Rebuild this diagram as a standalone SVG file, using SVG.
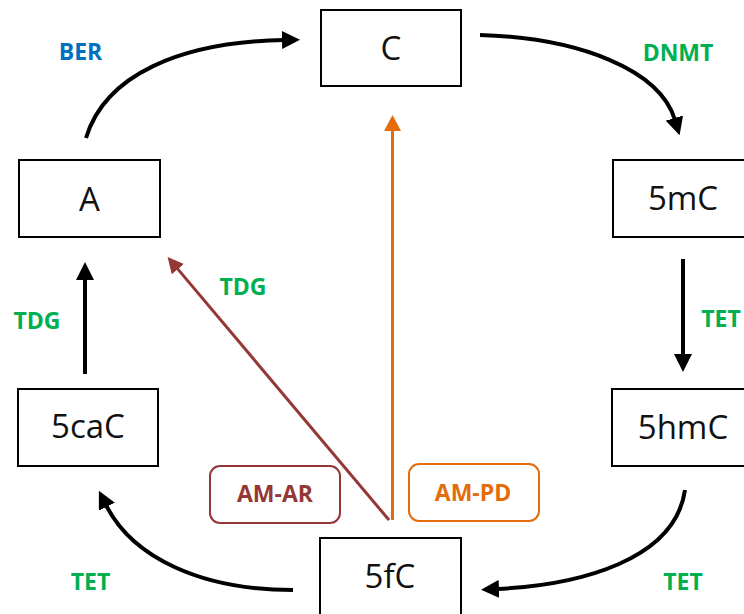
<svg xmlns="http://www.w3.org/2000/svg" width="744" height="614" viewBox="0 0 744 614">
<style>
.node rect{fill:#fff;stroke:#000;stroke-width:2}
.node text{font-family:"Open Sans","Liberation Sans",sans-serif;font-size:33px;fill:#111;text-anchor:middle}
.lbl{font-family:"Open Sans","Liberation Sans",sans-serif;font-size:23px;font-weight:bold;text-anchor:middle}
.g{fill:#00B050}
.b{fill:#0070C0}
.k{fill:none;stroke:#000;stroke-width:4}
</style>
<defs>
<marker id="hk" viewBox="0 0 18 18" markerWidth="18" markerHeight="18" refX="2" refY="9" orient="auto" markerUnits="userSpaceOnUse"><path d="M0,0 L18,9 L0,18 z" fill="#000"/></marker>
<marker id="ho" viewBox="0 0 16 17" markerWidth="16" markerHeight="17" refX="2" refY="8.5" orient="auto" markerUnits="userSpaceOnUse"><path d="M0,0 L16,8.5 L0,17 z" fill="#E46C0A"/></marker>
<marker id="hb" viewBox="0 0 16 16" markerWidth="16" markerHeight="16" refX="2" refY="8" orient="auto" markerUnits="userSpaceOnUse"><path d="M0,0 L16,8 L0,16 z" fill="#953735"/></marker>
</defs>
<g id="connectors">
<path class="k" d="M86,138 C105,75 180,42 284,40" marker-end="url(#hk)"/>
<path class="k" d="M480,35 C580,38 660,70 675,120" marker-end="url(#hk)"/>
<path class="k" d="M683,259 L683,356" marker-end="url(#hk)"/>
<path class="k" d="M685,490 C675,560 580,585 497,589" marker-end="url(#hk)"/>
<path class="k" d="M293,590 C200,590 132,557 106,505" marker-end="url(#hk)"/>
<path class="k" d="M85,374 L85,278" marker-end="url(#hk)"/>
<path d="M389,520 L176.6,267.6" fill="none" stroke="#953735" stroke-width="3" marker-end="url(#hb)"/>
<path d="M392.5,520 L392.5,129" fill="none" stroke="#E46C0A" stroke-width="3" marker-end="url(#ho)"/>
</g>
<g id="labels">
<text class="lbl b" x="80.5" y="60">BER</text>
<text class="lbl g" x="678" y="61">DNMT</text>
<text class="lbl g" x="243" y="295">TDG</text>
<text class="lbl g" x="37" y="329">TDG</text>
<text class="lbl g" x="721" y="327">TET</text>
<text class="lbl g" x="90.5" y="590">TET</text>
<text class="lbl g" x="683" y="590">TET</text>
</g>
<g id="AM-AR"><rect x="210" y="466" width="130" height="57" rx="10" fill="#fff" stroke="#953735" stroke-width="2"/><text class="lbl" x="275" y="502" fill="#953735">AM-AR</text></g>
<g id="AM-PD"><rect x="409" y="464" width="130" height="57" rx="10" fill="#fff" stroke="#E46C0A" stroke-width="2"/><text class="lbl" x="473" y="501" fill="#E46C0A">AM-PD</text></g>
<g id="C" class="node"><rect x="321" y="10" width="140" height="76"/><text x="391" y="60">C</text></g>
<g id="A" class="node"><rect x="19" y="160" width="141" height="77"/><text x="89.5" y="211">A</text></g>
<g id="5mC" class="node"><rect x="613" y="160" width="141" height="77"/><text x="683" y="210">5mC</text></g>
<g id="5hmC" class="node"><rect x="612" y="389" width="141" height="77"/><text x="683" y="439">5hmC</text></g>
<g id="5caC" class="node"><rect x="18" y="389" width="140" height="77"/><text x="88" y="438">5caC</text></g>
<g id="5fC" class="node"><rect x="320" y="538" width="141" height="80"/><text x="390" y="588">5fC</text></g>
</svg>
